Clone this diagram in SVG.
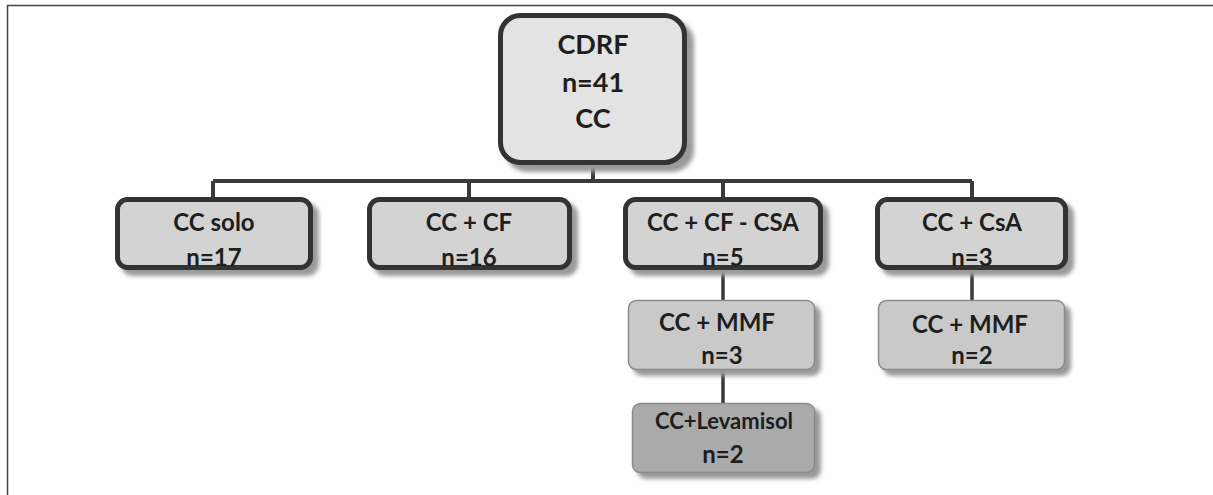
<svg xmlns="http://www.w3.org/2000/svg" width="1213" height="495" viewBox="0 0 1213 495">
<defs>
<filter id="sh" x="-10%" y="-10%" width="130%" height="140%"><feGaussianBlur stdDeviation="2"/></filter>
<style>
.t{font-family:Lato,"Open Sans","Liberation Sans",sans-serif;font-weight:bold;fill:#1e1e1e;text-anchor:middle}
.shadow{fill:#9a9a9a;filter:url(#sh)}
.thick{stroke:#333;stroke-width:5}
.thin{stroke:#8a8a8a;stroke-width:1.5}
.conn{stroke:#3a3a3a;fill:none}
</style>
</defs>
<rect width="1213" height="495" fill="#fff"/>
<path d="M7.5 495V5.5H1213" fill="none" stroke="#444" stroke-width="1.5"/>
<g id="connectors">
<path class="conn" stroke-width="4" d="M593 165V181M213 181H972M213 181V197M469 181V197M723 181V197M972 181V197"/>
<path class="conn" stroke-width="3.5" d="M723 270V300M723 370V403M972 270V300"/>
</g>
<g id="root">
<rect class="shadow" x="505" y="20" width="189" height="152" rx="22"/>
<rect class="thick" x="500.5" y="15.5" width="184" height="147" rx="20" fill="#e3e3e3"/>
<text class="t" x="593" y="54" font-size="27">CDRF</text>
<text class="t" x="593" y="92" font-size="27">n=41</text>
<text class="t" x="593" y="128" font-size="27">CC</text>
</g>
<g id="cc-solo">
<rect class="shadow" x="121" y="203" width="198" height="73" rx="12"/>
<rect class="thick" x="117.5" y="199.5" width="193" height="68" rx="10" fill="#d3d3d3"/>
<text class="t" x="214" y="231" font-size="24">CC solo</text>
<text class="t" x="214" y="266" font-size="24">n=17</text>
</g>
<g id="cc-cf">
<rect class="shadow" x="373" y="203" width="205" height="73" rx="12"/>
<rect class="thick" x="369.5" y="199.5" width="200" height="68" rx="10" fill="#d3d3d3"/>
<text class="t" x="469" y="231" font-size="24">CC + CF</text>
<text class="t" x="469" y="266" font-size="24">n=16</text>
</g>
<g id="cc-cf-csa">
<rect class="shadow" x="629" y="203" width="200" height="73" rx="12"/>
<rect class="thick" x="625.5" y="199.5" width="195" height="68" rx="10" fill="#d3d3d3"/>
<text class="t" x="723" y="231" font-size="24">CC + CF - CSA</text>
<text class="t" x="723" y="266" font-size="24">n=5</text>
</g>
<g id="cc-csa">
<rect class="shadow" x="881" y="203" width="193" height="73" rx="12"/>
<rect class="thick" x="877.5" y="199.5" width="188" height="68" rx="10" fill="#d3d3d3"/>
<text class="t" x="972" y="231" font-size="24">CC + CsA</text>
<text class="t" x="972" y="266" font-size="24">n=3</text>
</g>
<g id="cc-mmf-3">
<rect class="shadow" x="633" y="305" width="188" height="71" rx="9"/>
<rect class="thin" x="628.5" y="300.5" width="186" height="69" rx="8" fill="#c9c9c9"/>
<text class="t" x="717" y="331" font-size="24">CC + MMF</text>
<text class="t" x="722" y="364" font-size="24">n=3</text>
</g>
<g id="cc-levamisol">
<rect class="shadow" x="637" y="408" width="184" height="71" rx="9"/>
<rect class="thin" x="632.5" y="403.5" width="182" height="69" rx="8" fill="#aaaaaa"/>
<text class="t" x="724" y="429" font-size="22">CC+Levamisol</text>
<text class="t" x="723" y="463" font-size="24">n=2</text>
</g>
<g id="cc-mmf-2">
<rect class="shadow" x="883" y="305" width="188" height="71" rx="9"/>
<rect class="thin" x="878.5" y="300.5" width="186" height="69" rx="8" fill="#c9c9c9"/>
<text class="t" x="970" y="333" font-size="24">CC + MMF</text>
<text class="t" x="972" y="364" font-size="24">n=2</text>
</g>
</svg>
